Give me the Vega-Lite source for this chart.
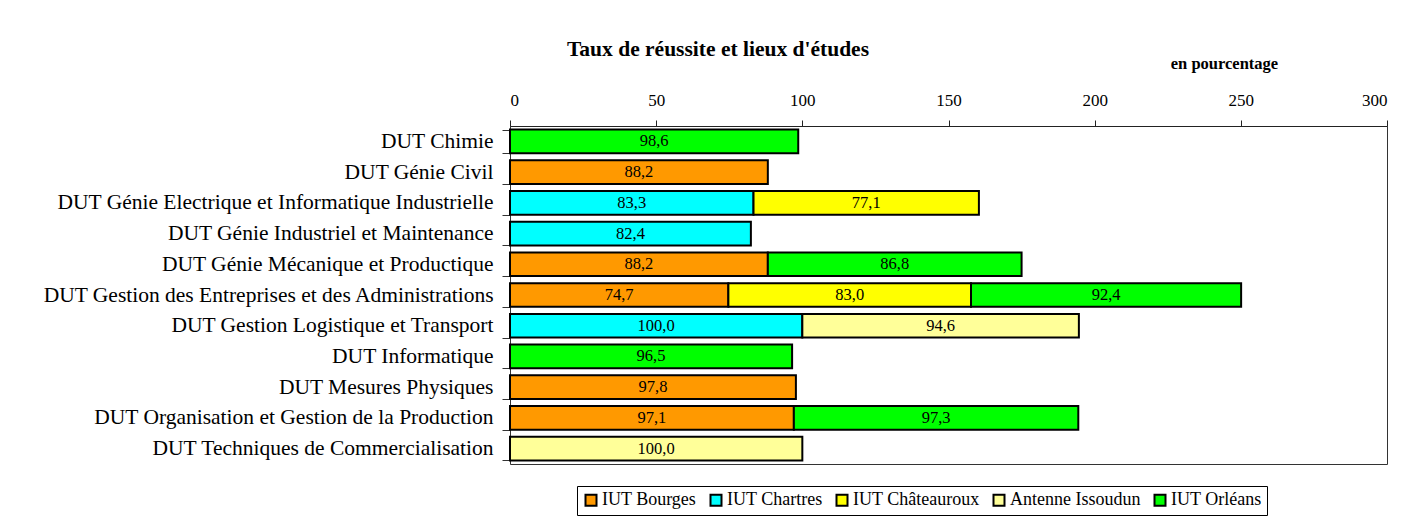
{
  "$schema": "https://vega.github.io/schema/vega-lite/v6.json",
  "width": 877,
  "height": 338,
  "autosize": {"type": "none"},
  "padding": {"left": 510, "top": 126, "right": 37, "bottom": 66},
  "background": "white",
  "title": {
    "text": "Taux de réussite et lieux d'études",
    "anchor": "start",
    "frame": "group",
    "dx": 57,
    "offset": -5,
    "font": "Liberation Serif, Times New Roman, serif",
    "fontSize": 21.5,
    "fontWeight": "bold",
    "color": "black"
  },
  "data": {
    "values": [
      {"filiere": "DUT Chimie", "lieu": "IUT Orléans", "val": 98.6},
      {"filiere": "DUT Génie Civil", "lieu": "IUT Bourges", "val": 88.2},
      {"filiere": "DUT Génie Electrique et Informatique Industrielle", "lieu": "IUT Chartres", "val": 83.3},
      {"filiere": "DUT Génie Electrique et Informatique Industrielle", "lieu": "IUT Châteauroux", "val": 77.1},
      {"filiere": "DUT Génie Industriel et Maintenance", "lieu": "IUT Chartres", "val": 82.4},
      {"filiere": "DUT Génie Mécanique et Productique", "lieu": "IUT Bourges", "val": 88.2},
      {"filiere": "DUT Génie Mécanique et Productique", "lieu": "IUT Orléans", "val": 86.8},
      {"filiere": "DUT Gestion des Entreprises et des Administrations", "lieu": "IUT Bourges", "val": 74.7},
      {"filiere": "DUT Gestion des Entreprises et des Administrations", "lieu": "IUT Châteauroux", "val": 83.0},
      {"filiere": "DUT Gestion des Entreprises et des Administrations", "lieu": "IUT Orléans", "val": 92.4},
      {"filiere": "DUT Gestion Logistique et Transport", "lieu": "IUT Chartres", "val": 100.0},
      {"filiere": "DUT Gestion Logistique et Transport", "lieu": "Antenne Issoudun", "val": 94.6},
      {"filiere": "DUT Informatique", "lieu": "IUT Orléans", "val": 96.5},
      {"filiere": "DUT Mesures Physiques", "lieu": "IUT Bourges", "val": 97.8},
      {"filiere": "DUT Organisation et Gestion de la Production", "lieu": "IUT Bourges", "val": 97.1},
      {"filiere": "DUT Organisation et Gestion de la Production", "lieu": "IUT Orléans", "val": 97.3},
      {"filiere": "DUT Techniques de Commercialisation", "lieu": "Antenne Issoudun", "val": 100.0}
    ]
  },
  "transform": [
    {"calculate": "indexof(['IUT Bourges','IUT Chartres','IUT Châteauroux','Antenne Issoudun','IUT Orléans'], datum.lieu)", "as": "ord"},
    {"stack": "val", "groupby": ["filiere"], "sort": [{"field": "ord", "order": "ascending"}], "as": ["x0", "x1"]},
    {"calculate": "(datum.x0 + datum.x1) / 2", "as": "mid"}
  ],
  "encoding": {
    "y": {
      "field": "filiere",
      "type": "nominal",
      "sort": null,
      "scale": {"paddingInner": 0.23, "paddingOuter": 0.115},
      "axis": {
        "title": null,
        "domain": false,
        "tickBand": "extent",
        "tickSize": 8,
        "tickColor": "#333",
        "labelPadding": 9,
        "labelFont": "Liberation Serif, Times New Roman, serif",
        "labelFontSize": 21.5,
        "labelColor": "black",
        "labelLimit": 0
      }
    }
  },
  "layer": [
    {
      "mark": {"type": "bar", "stroke": "black", "strokeWidth": 2},
      "encoding": {
        "x": {
          "field": "x0",
          "type": "quantitative",
          "scale": {"domain": [0, 300], "nice": false},
          "axis": {
            "orient": "top",
            "values": [0, 50, 100, 150, 200, 250, 300],
            "grid": false,
            "domainColor": "#222",
            "tickColor": "#222",
            "tickSize": 6,
            "labelPadding": 11,
            "labelFont": "Liberation Serif, Times New Roman, serif",
            "labelFontSize": 17,
            "labelColor": "black",
            "title": "en pourcentage",
            "titleFont": "Liberation Serif, Times New Roman, serif",
            "titleFontSize": 16.5,
            "titleFontWeight": "bold",
            "titleColor": "black",
            "titleX": 714,
            "titleY": -63,
            "titleAlign": "center",
            "titleBaseline": "middle",
            "titleAngle": 0
          }
        },
        "x2": {"field": "x1"},
        "color": {
          "field": "lieu",
          "type": "nominal",
          "scale": {
            "domain": ["IUT Bourges", "IUT Chartres", "IUT Châteauroux", "Antenne Issoudun", "IUT Orléans"],
            "range": ["#FF9900", "#00FFFF", "#FFFF00", "#FFFF99", "#00FF00"]
          },
          "legend": {
            "title": null,
            "orient": "none",
            "legendX": 67,
            "legendY": 360,
            "direction": "horizontal",
            "columns": 5,
            "columnPadding": 9,
            "padding": 5,
            "strokeColor": "black",
            "fillColor": "white",
            "symbolType": "square",
            "symbolSize": 121,
            "symbolStrokeColor": "black",
            "symbolStrokeWidth": 2,
            "symbolOpacity": 1,
            "labelFont": "Liberation Serif, Times New Roman, serif",
            "labelFontSize": 18,
            "labelColor": "black",
            "labelOffset": 2
          }
        }
      }
    },
    {
      "mark": {"type": "text", "font": "Liberation Serif, Times New Roman, serif", "fontSize": 16.5, "color": "black", "baseline": "middle", "align": "center"},
      "encoding": {
        "x": {"field": "mid", "type": "quantitative"},
        "text": {"field": "val", "type": "quantitative", "format": ".1f"}
      }
    }
  ],
  "config": {
    "font": "Liberation Serif, Times New Roman, serif",
    "locale": {"number": {"decimal": ",", "thousands": " ", "grouping": [3], "currency": ["", " €"]}},
    "view": {"stroke": "#333", "strokeWidth": 1}
  }
}
